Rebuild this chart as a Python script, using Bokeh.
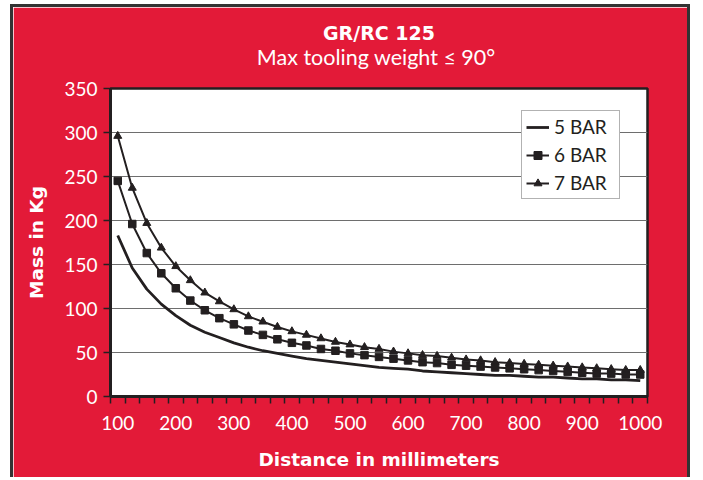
from bokeh.plotting import figure
from bokeh.models import FixedTicker, Title, Legend, LegendItem, Range1d
from bokeh.embed import file_html
from bokeh.resources import INLINE

# Data
distance = [100, 125, 150, 175, 200, 225, 250, 275, 300, 325, 350, 375, 400,
            425, 450, 475, 500, 525, 550, 575, 600, 625, 650, 675, 700, 725,
            750, 775, 800, 825, 850, 875, 900, 925, 950, 975, 1000]
bar5 = [183, 146, 122, 105, 92, 81, 73, 67, 61, 56, 52, 49, 46,
        43, 41, 39, 37, 35, 33, 32, 31, 29, 28, 27, 26, 25,
        24, 24, 23, 22, 22, 21, 20, 20, 19, 19, 18]
bar6 = [245, 196, 163, 140, 123, 109, 98, 89, 82, 75, 70, 65, 61,
        58, 54, 52, 49, 47, 45, 43, 41, 39, 38, 36, 35, 34,
        33, 32, 31, 30, 29, 28, 27, 26, 26, 25, 25]
bar7 = [296, 237, 197, 169, 148, 132, 118, 108, 99, 91, 85, 79, 74,
        70, 66, 62, 59, 56, 54, 51, 49, 47, 46, 44, 42, 41,
        39, 38, 37, 36, 35, 34, 33, 32, 31, 30, 30]
series_names = ["5 BAR", "6 BAR", "7 BAR"]
y_ticks = [0, 50, 100, 150, 200, 250, 300, 350]
x_label_ticks = [100, 200, 300, 400, 500, 600, 700, 800, 900, 1000]
title_text = "GR/RC 125"
subtitle_text = "Max tooling weight  \u2264 90\u00b0"

RED = "#E31A38"
DARK = "#231F20"
WHITE = "#FFFFFF"
FONT = "Lato"
BOLD_FONT = "DejaVu Sans"

half = (distance[1] - distance[0]) / 2
p = figure(width=680, height=473, output_backend="svg", toolbar_location=None,
           title=None,
           x_range=Range1d(distance[0] - half, distance[-1] + half),
           y_range=Range1d(y_ticks[0], y_ticks[-1]),
           min_border_left=97, min_border_right=46,
           min_border_top=81, min_border_bottom=84)
p.margin = (4, 0, 0, 10)
p.styles = {"border": "3px solid #333333", "border-bottom": "none"}

p.border_fill_color = RED
p.background_fill_color = WHITE
p.outline_line_color = DARK
p.outline_line_width = 2.5

# x axis: tick marks between categories, labels on every 4th category
bounds = [d - half for d in distance] + [distance[-1] + half]
p.xaxis.ticker = FixedTicker(ticks=x_label_ticks, minor_ticks=bounds)
p.xaxis.major_tick_out = 0
p.xaxis.major_tick_in = 0
p.xaxis.minor_tick_out = 7
p.xaxis.minor_tick_in = 0
p.xaxis.minor_tick_line_color = DARK
p.xaxis.minor_tick_line_width = 1.5
p.xaxis.major_label_standoff = 12
p.xaxis.axis_label = "Distance in millimeters"
p.xaxis.axis_label_standoff = 16

p.yaxis.ticker = FixedTicker(ticks=y_ticks, minor_ticks=[])
p.yaxis.major_tick_out = 7
p.yaxis.major_tick_in = 0
p.yaxis.major_tick_line_color = DARK
p.yaxis.major_tick_line_width = 1.5
p.yaxis.minor_tick_out = 0
p.yaxis.minor_tick_in = 0
p.yaxis.major_label_standoff = 6
p.yaxis.axis_label = "Mass in Kg"
p.yaxis.axis_label_standoff = 14

for ax in (p.xaxis, p.yaxis):
    ax.axis_line_color = DARK
    ax.axis_line_width = 3
    ax.major_label_text_color = WHITE
    ax.major_label_text_font = FONT
    ax.major_label_text_font_size = "19px"
    ax.axis_label_text_color = WHITE
    ax.axis_label_text_font = BOLD_FONT
    ax.axis_label_text_font_size = "18.5px"
    ax.axis_label_text_font_style = "bold"

p.xgrid.visible = False
p.ygrid.ticker = FixedTicker(ticks=y_ticks)
p.ygrid.grid_line_color = "#6E6E6E"
p.ygrid.grid_line_width = 1.2

# Series
l5 = p.line(distance, bar5, line_color=DARK, line_width=2.8)
l6 = p.line(distance, bar6, line_color=DARK, line_width=2)
s6 = p.scatter(distance, bar6, marker="square", size=7.5, fill_color=DARK, line_color=DARK)
l7 = p.line(distance, bar7, line_color=DARK, line_width=2)
s7 = p.scatter(distance, bar7, marker="triangle", size=8, fill_color=DARK, line_color=DARK)

legend = Legend(items=[LegendItem(label=series_names[0], renderers=[l5]),
                       LegendItem(label=series_names[1], renderers=[l6, s6]),
                       LegendItem(label=series_names[2], renderers=[l7, s7])],
                location=(411, 197))
legend.border_line_color = "#666666"
legend.border_line_width = 1
legend.background_fill_color = WHITE
legend.background_fill_alpha = 1
legend.label_text_font = FONT
legend.label_text_font_size = "19px"
legend.label_text_color = DARK
legend.glyph_width = 23
legend.glyph_height = 20
legend.label_height = 20
legend.label_width = 61
legend.spacing = 5
legend.padding = 4
legend.margin = 0
legend.label_standoff = 5
p.add_layout(legend)

p.add_layout(Title(text=subtitle_text, align="center",
                   text_color=WHITE, text_font=FONT, text_font_size="21.5px",
                   text_font_style="normal", standoff=37), "above")
p.add_layout(Title(text=title_text, align="center",
                   text_color=WHITE, text_font=BOLD_FONT, text_font_size="19px",
                   text_font_style="bold", standoff=-40), "above")

open("out.html", "w").write(file_html(p, INLINE))
